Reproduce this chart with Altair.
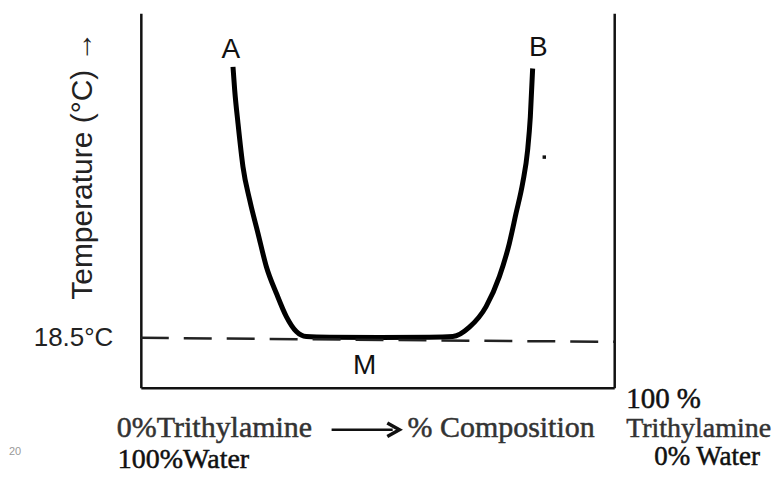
import altair as alt
import pandas as pd

# ---- data (composition %, temperature-like scale where 18.5 is the critical temperature) ----
curve_x = [19.47, 19.83, 20.53, 21.58, 23.0, 24.75, 26.52, 28.63, 30.74, 32.85, 34.96,
           39.87, 50.42, 60.97,
           65.89, 69.41, 72.93, 75.74, 77.85, 79.26, 80.65, 81.71, 82.28, 82.77]
curve_y = [64.62, 60.66, 55.0, 47.62, 41.96, 36.3, 30.62, 26.1, 22.12, 19.57, 18.72,
           18.6, 18.55, 18.6,
           18.72, 20.32, 23.82, 28.92, 34.6, 39.7, 44.8, 50.46, 56.12, 64.35]

dash_x = [0, 100]
dash_y = [18.5, 17.82]

dot_x = [85.23]
dot_y = [49.27]

label_text = ["A", "B", "M"]
label_x = [18.99, 83.97, 47.26]
label_y = [66.1, 66.44, 12.38]

note_text = ["0%Trithylamine", "% Composition", "100%Water", "100 %", "Trithylamine", "0% Water"]
note_x = [-5.06, 56.33, -4.85, 102.53, 102.53, 108.44]
note_y = [1.67, 1.67, -3.6, 6.6, 1.67, -3.2]
note_size = [30, 30, 28, 29, 28, 27]
note_color = ["#333333", "#333333", "#111111", "#111111", "#333333", "#111111"]

arrow_x = [40.3]
arrow_x2 = [53.2]
arrow_y = [2.86]

page_text = ["20"]
page_x = [-26.58]
page_y = [-1.39]

X_DOMAIN = [0, 100]
Y_DOMAIN = [10, 73.75]
TICK_VALUE = 18.5

# ---- tables ----
curve_df = pd.DataFrame({"x": curve_x, "y": curve_y})
dash_df = pd.DataFrame({"x": dash_x, "y": dash_y})
dot_df = pd.DataFrame({"x": dot_x, "y": dot_y})
label_df = pd.DataFrame({"t": label_text, "x": label_x, "y": label_y})
note_df = pd.DataFrame({"t": note_text, "x": note_x, "y": note_y, "s": note_size, "c": note_color})
arrow_df = pd.DataFrame({"x": arrow_x, "x2": arrow_x2, "y": arrow_y})
page_df = pd.DataFrame({"t": page_text, "x": page_x, "y": page_y})

xs = alt.Scale(domain=X_DOMAIN, nice=False, zero=False)
ys = alt.Scale(domain=Y_DOMAIN, nice=False, zero=False)

ink = "#111111"

curve = alt.Chart(curve_df).mark_line(
    color="#000000", strokeWidth=5, interpolate="monotone", strokeCap="butt"
).encode(
    x=alt.X("x:Q", scale=xs, axis=alt.Axis(labels=False, ticks=False, title=None, grid=False,
                                            domainColor=ink, domainWidth=2.5)),
    y=alt.Y("y:Q", scale=ys, axis=alt.Axis(
        values=[TICK_VALUE], labelExpr="'18.5°C'", ticks=False, grid=False,
        domainColor=ink, domainWidth=2.5,
        labelFont="Liberation Sans", labelFontSize=26, labelColor="#222222", labelPadding=28,
        title="Temperature (°C) →", titleFont="Liberation Sans", titleFontSize=30,
        titleFontWeight="normal", titleColor="#222222", titleAngle=-90,
        titleX=-49, titleY=152, titleAlign="center", titleBaseline="alphabetic")),
    order="x:Q",
)

dashed = alt.Chart(dash_df).mark_line(
    color="#222222", strokeWidth=2.5, strokeDash=[28, 15]
).encode(
    x=alt.X("x:Q", scale=xs, axis=None),
    y=alt.Y("y:Q", scale=ys, axis=alt.Axis(orient="right", labels=False, ticks=False, title=None,
                                            grid=False, domainColor=ink, domainWidth=2.5)),
)

dot = alt.Chart(dot_df).mark_point(shape="square", filled=True, size=12, color="#111111", opacity=1).encode(
    x=alt.X("x:Q", scale=xs, axis=None),
    y=alt.Y("y:Q", scale=ys, axis=None),
)

labels = alt.Chart(label_df).mark_text(
    font="Liberation Sans", fontSize=28, color="#111111", align="center", baseline="alphabetic"
).encode(
    x=alt.X("x:Q", scale=xs, axis=None),
    y=alt.Y("y:Q", scale=ys, axis=None),
    text="t:N",
)

notes = alt.Chart(note_df).mark_text(
    font="Liberation Serif", align="left", baseline="alphabetic", strokeWidth=0.5
).encode(
    x=alt.X("x:Q", scale=xs, axis=None),
    y=alt.Y("y:Q", scale=ys, axis=None),
    text="t:N",
    size=alt.Size("s:Q", scale=None, legend=None),
    color=alt.Color("c:N", scale=None, legend=None),
    stroke=alt.Stroke("c:N", scale=None, legend=None),
)

shaft = alt.Chart(arrow_df).mark_rule(color="#111111", strokeWidth=2.5).encode(
    x=alt.X("x:Q", scale=xs, axis=None),
    x2="x2:Q",
    y=alt.Y("y:Q", scale=ys, axis=None),
)

head = alt.Chart(arrow_df).mark_point(
    shape="M-0.8,-1L1,0L-0.8,1", filled=False, strokeWidth=3.5, size=180, color="#111111", opacity=1
).encode(
    x=alt.X("x2:Q", scale=xs, axis=None),
    y=alt.Y("y:Q", scale=ys, axis=None),
)

page = alt.Chart(page_df).mark_text(
    font="Liberation Sans", fontSize=11, color="#999999", align="center", baseline="alphabetic"
).encode(
    x=alt.X("x:Q", scale=xs, axis=None),
    y=alt.Y("y:Q", scale=ys, axis=None),
    text="t:N",
)

chart = alt.layer(
    curve, dashed, dot, labels, notes, shaft, head, page
).resolve_axis(
    x="independent", y="independent"
).properties(
    width=474, height=375,
    autosize=alt.AutoSizeParams(type="none"),
    padding={"left": 133, "top": 5, "right": 160, "bottom": 85},
    background="white",
).configure_view(stroke=None)

chart.save("out.html", embed_options={"renderer": "svg", "actions": False})
